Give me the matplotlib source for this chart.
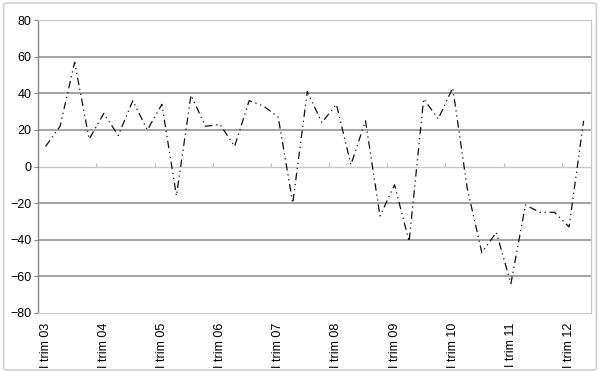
import matplotlib
matplotlib.use('Agg')
import matplotlib.pyplot as plt
from matplotlib.patches import FancyBboxPatch

# dati trimestrali, da I trim 03 a II trim 12
valori = [11, 22, 57, 15, 29, 17, 36, 20, 34, -16,
          39, 22, 23, 11, 36, 33, 27, -20, 41, 24,
          34, 1, 25, -27, -10, -41, 37, 26, 43, -12,
          -47, -36, -64, -21, -25, -25, -33, 25]
etichette = ['I trim 03', 'I trim 04', 'I trim 05', 'I trim 06', 'I trim 07',
             'I trim 08', 'I trim 09', 'I trim 10', 'I trim 11', 'I trim 12']
y_ticks = [-80, -60, -40, -20, 0, 20, 40, 60, 80]

plt.rcParams['font.family'] = ['Liberation Sans', 'DejaVu Sans']

fig = plt.figure(figsize=(6.0, 3.73), dpi=100)
ax = fig.add_axes([0.0638, 0.161, 0.921, 0.785])

# cornice del grafico
fig.patches.append(FancyBboxPatch((0.006, 0.008), 0.988, 0.984,
                                  boxstyle='round,pad=0,rounding_size=0.006',
                                  transform=fig.transFigure, fill=False,
                                  edgecolor='#d0d0d0', linewidth=1.2))

x = list(range(len(valori)))
ax.plot(x, valori, color='#111111', linewidth=0.9,
        dashes=(6, 3, 1, 3, 1, 3))

ax.set_xlim(-0.5, len(valori) - 0.5)
ax.set_ylim(-80, 80)
ax.set_yticks(y_ticks)
ax.tick_params(axis='y', labelsize=9, length=3, color='#868686', pad=2)
for v in y_ticks:
    if v not in (0, -80, 80):
        ax.axhline(v, color='#8a8a8a', linewidth=1.1, zorder=0)

ax.set_xticks(x[::4])
ax.set_xticklabels(etichette, rotation=90, fontsize=9)
ax.tick_params(axis='x', length=0, pad=7)

# asse delle categorie sulla linea dello zero, con le sue tacche
sec = ax.secondary_xaxis(0.5)
sec.set_xticks([i - 0.5 for i in x[4::4]])
sec.set_xticklabels([])
sec.tick_params(length=3, color='#bdbdbd', direction='out')
for s in sec.spines.values():
    s.set_color('#c8c8c8')
    s.set_linewidth(1.0)

for s in ['top', 'right', 'bottom']:
    ax.spines[s].set_color('#c8c8c8')
ax.spines['left'].set_color('#868686')
ax.spines['left'].set_linewidth(1.0)

fig.savefig('out.png', dpi=100)
